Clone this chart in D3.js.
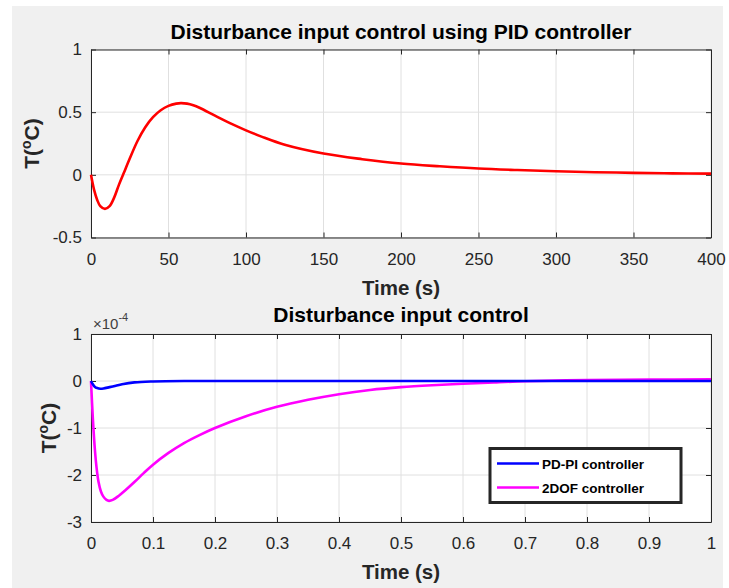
<!DOCTYPE html>
<html><head><meta charset="utf-8">
<script src="https://cdn.jsdelivr.net/npm/d3@7"></script>
<style>
body{margin:0;background:#fff;}
svg{display:block;font-family:"Liberation Sans",Arial,sans-serif;}
</style></head><body>
<script>
// ---- data ----
const pidT = [0,2,4,6,9,12,15,18,21,25,30,35,40,45,50,55,58,62,66,70,80,90,100,110,125,150,175,200,225,250,275,300,325,350,375,400];
const pidV = [0,-0.12,-0.2,-0.25,-0.272,-0.25,-0.18,-0.08,0.01,0.13,0.27,0.38,0.46,0.515,0.55,0.568,0.572,0.568,0.555,0.535,0.472,0.41,0.355,0.305,0.24,0.17,0.125,0.09,0.068,0.05,0.038,0.028,0.021,0.016,0.012,0.01];
const pdpiT = [0,0.003,0.006,0.01,0.015,0.02,0.03,0.04,0.05,0.07,0.1,0.15,0.2,0.4,0.6,0.8,1.0];
const pdpiV = [0,-0.07,-0.12,-0.15,-0.165,-0.16,-0.13,-0.1,-0.07,-0.03,-0.01,0,0,0,0,0,0];
const dofT = [0,0.003,0.0065,0.009,0.012,0.016,0.02,0.025,0.029,0.035,0.045,0.055,0.07,0.085,0.1,0.125,0.15,0.175,0.2,0.25,0.3,0.35,0.4,0.45,0.5,0.55,0.6,0.65,0.7,0.8,0.9,1.0];
const dofV = [0,-0.8,-1.5,-1.85,-2.14,-2.35,-2.46,-2.53,-2.55,-2.53,-2.44,-2.33,-2.15,-1.96,-1.78,-1.53,-1.32,-1.15,-1.0,-0.75,-0.55,-0.4,-0.28,-0.19,-0.13,-0.09,-0.06,-0.03,-0.005,0.02,0.03,0.035];
const x1Ticks = [0,50,100,150,200,250,300,350,400];
const y1Ticks = [-0.5,0,0.5,1];
const x2Ticks = [0,0.1,0.2,0.3,0.4,0.5,0.6,0.7,0.8,0.9,1];
const y2Ticks = [-3,-2,-1,0,1];
const titles = ["Disturbance input control using PID controller","Disturbance input control"];
const legendNames = ["PD-PI controller","2DOF controller"];
const colors = {pid:"#ff0000", pdpi:"#0000ff", dof:"#ff00ff"};

const W=729,H=588;
const svg=d3.select("body").append("svg").attr("width",W).attr("height",H);
svg.append("rect").attr("x",12).attr("y",6).attr("width",711).attr("height",582).attr("fill","#f0f0f0");

function panel(cfg){
  const {left,right,top,bottom,xd,yd,xt,yt,title,titleOff,ylabX,xfmt,yfmt}=cfg;
  const x=d3.scaleLinear().domain(xd).range([left,right]);
  const y=d3.scaleLinear().domain(yd).range([bottom,top]);
  const g=svg.append("g");
  g.append("rect").attr("x",left).attr("y",top).attr("width",right-left).attr("height",bottom-top).attr("fill","#fff");
  // grid
  g.selectAll(".gx").data(xt).join("line").attr("x1",d=>x(d)).attr("x2",d=>x(d)).attr("y1",top).attr("y2",bottom).attr("stroke","#e0e0e0").attr("stroke-width",1);
  g.selectAll(".gy").data(yt).join("line").attr("y1",d=>y(d)).attr("y2",d=>y(d)).attr("x1",left).attr("x2",right).attr("stroke","#e0e0e0").attr("stroke-width",1);
  // axes
  const ax=d3.axisBottom(x).tickValues(xt).tickFormat(xfmt).tickSizeInner(-5).tickSizeOuter(0).tickPadding(15);
  const ay=d3.axisLeft(y).tickValues(yt).tickFormat(yfmt).tickSizeInner(-5).tickSizeOuter(0).tickPadding(9);
  const axT=d3.axisTop(x).tickValues(xt).tickFormat("").tickSizeInner(-5).tickSizeOuter(0);
  const ayR=d3.axisRight(y).tickValues(yt).tickFormat("").tickSizeInner(-5).tickSizeOuter(0);
  [[ax,`translate(0,${bottom})`],[ay,`translate(${left},0)`],[axT,`translate(0,${top})`],[ayR,`translate(${right},0)`]].forEach(([a,t])=>{
    const s=g.append("g").attr("transform",t).call(a);
    s.select(".domain").attr("stroke","#262626");
    s.selectAll(".tick line").attr("stroke","#262626");
    s.selectAll("text").attr("fill","#262626").attr("font-size",17).attr("font-family","Liberation Sans, Arial, sans-serif");
  });
  // titles
  g.append("text").attr("x",(left+right)/2).attr("y",top-titleOff).attr("text-anchor","middle").attr("font-weight","bold").attr("font-size",21).attr("fill","#000").text(title);
  g.append("text").attr("x",(left+right)/2).attr("y",bottom+57).attr("text-anchor","middle").attr("font-weight","bold").attr("font-size",20.5).attr("fill","#262626").text("Time (s)");
  const yl=g.append("text").attr("transform",`translate(${ylabX},${(top+bottom)/2}) rotate(-90)`).attr("text-anchor","middle").attr("font-weight","bold").attr("font-size",21).attr("fill","#262626");
  yl.append("tspan").text("T(");
  yl.append("tspan").attr("font-size",14).attr("dy",-8).text("o");
  yl.append("tspan").attr("dy",8).text("C)");
  return {x,y,g};
}

const p1=panel({left:91,right:711,top:49.5,bottom:237.5,xd:[0,400],yd:[-0.5,1],xt:x1Ticks,yt:y1Ticks,title:titles[0],titleOff:11,ylabX:39,xfmt:d3.format("d"),yfmt:d=>String(d)});
const p2=panel({left:91,right:711,top:334,bottom:522,xd:[0,1],yd:[-3,1],xt:x2Ticks,yt:y2Ticks,title:titles[1],titleOff:12.5,ylabX:56,xfmt:d=>String(d),yfmt:d=>String(d)});

const line1=d3.line().x(d=>p1.x(d[0])).y(d=>p1.y(d[1])).curve(d3.curveCatmullRom.alpha(0.5));
p1.g.append("path").datum(pidT.map((t,i)=>[t,pidV[i]])).attr("d",line1).attr("fill","none").attr("stroke",colors.pid).attr("stroke-width",2.6);

const line2=d3.line().x(d=>p2.x(d[0])).y(d=>p2.y(d[1])).curve(d3.curveCatmullRom.alpha(0.5));
p2.g.append("path").datum(dofT.map((t,i)=>[t,dofV[i]])).attr("d",line2).attr("fill","none").attr("stroke",colors.dof).attr("stroke-width",2.6);
p2.g.append("path").datum(pdpiT.map((t,i)=>[t,pdpiV[i]])).attr("d",line2).attr("fill","none").attr("stroke",colors.pdpi).attr("stroke-width",2.6);

// exponent label
const ex=svg.append("text").attr("x",93).attr("y",329).attr("font-size",15).attr("fill","#404040");
ex.append("tspan").text("×10");
ex.append("tspan").attr("font-size",11).attr("dy",-8).text("-4");

// legend
const lg=svg.append("g");
lg.append("rect").attr("x",490).attr("y",448.5).attr("width",191).attr("height",54).attr("fill","#fff").attr("stroke","#262626").attr("stroke-width",3);
[[colors.pdpi,legendNames[0],463.5],[colors.dof,legendNames[1],487.5]].forEach(([c,n,yy])=>{
  lg.append("line").attr("x1",497).attr("x2",539).attr("y1",yy).attr("y2",yy).attr("stroke",c).attr("stroke-width",2.6);
  lg.append("text").attr("x",542).attr("y",yy+5.5).attr("font-size",13.5).attr("font-weight","bold").attr("fill","#000").text(n);
});
</script>
</body></html>
